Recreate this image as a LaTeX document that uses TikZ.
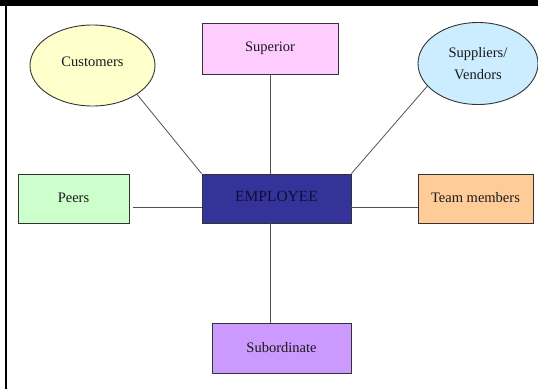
\documentclass[tikz,border=0pt]{standalone}
\usepackage{fontspec}
\setmainfont{Liberation Serif}
\usetikzlibrary{shapes.geometric}
\definecolor{cyel}{HTML}{FFFFCC}
\definecolor{cpink}{HTML}{FFCCFF}
\definecolor{cblue}{HTML}{CCECFF}
\definecolor{cgreen}{HTML}{CCFFCC}
\definecolor{corange}{HTML}{FFCC99}
\definecolor{cnavy}{HTML}{333399}
\definecolor{clav}{HTML}{CC99FF}
\definecolor{cedge}{HTML}{333333}
\definecolor{ctext}{HTML}{1A1A1A}
\definecolor{cemptext}{HTML}{0E0E33}
\begin{document}
\begin{tikzpicture}[x=1pt,y=-1pt,
  shp/.style={draw=cedge, line width=0.9pt, inner sep=0pt, text=ctext,
    font=\fontsize{14.5}{16}\selectfont, align=center},
  boxn/.style={shp, rectangle},
  ovaln/.style={shp, ellipse},
  conn/.style={draw=cedge!85, line width=0.8pt}]
\useasboundingbox (0,0) rectangle (538,389);
\fill[black] (0,0) rectangle (538,6);
\draw[black, line width=2pt] (6,6) -- (6,389);

\node[ovaln, fill=cyel, minimum width=125pt, minimum height=81pt] (cust) at (92.5,65.5) {\raisebox{7pt}{Customers}};
\node[boxn, fill=cpink, minimum width=136pt, minimum height=51pt] (sup) at (270,48.5) {\raisebox{3pt}{Superior}};
\node[ovaln, fill=cblue, minimum width=120pt, minimum height=82pt] (supp) at (478,63.5) {Suppliers/\\[6pt]Vendors};
\node[boxn, fill=cnavy, minimum width=149pt, minimum height=49pt, text=cemptext, font=\fontsize{15.5}{17}\selectfont] (emp) at (276.5,198.5) {\raisebox{4pt}{EMPLOYEE}};
\node[boxn, fill=cgreen, minimum width=111pt, minimum height=49pt] (peers) at (73.5,198.5) {\raisebox{2pt}{Peers}};
\node[boxn, fill=corange, minimum width=115pt, minimum height=49pt] (team) at (475.5,198.5) {\raisebox{3pt}{Team members}};
\node[boxn, fill=clav, minimum width=139pt, minimum height=50pt] (sub) at (281.5,348) {Subordinate};

\coordinate (vx) at (270,0);
\coordinate (peersend) at ([xshift=4pt,yshift=-8.5pt]peers.east);
\coordinate (empright) at ([yshift=-8.5pt]emp.east);

\draw[conn] (sup.south) -- (sup.south |- emp.north);
\draw[conn] (vx |- emp.south) -- (vx |- sub.north);
\draw[conn] (cust.-33) -- (emp.north west);
\draw[conn] (supp.204) -- (emp.north east);
\draw[conn] (peersend) -- (peersend -| emp.west);
\draw[conn] (empright) -- (empright -| team.west);
\end{tikzpicture}
\end{document}
